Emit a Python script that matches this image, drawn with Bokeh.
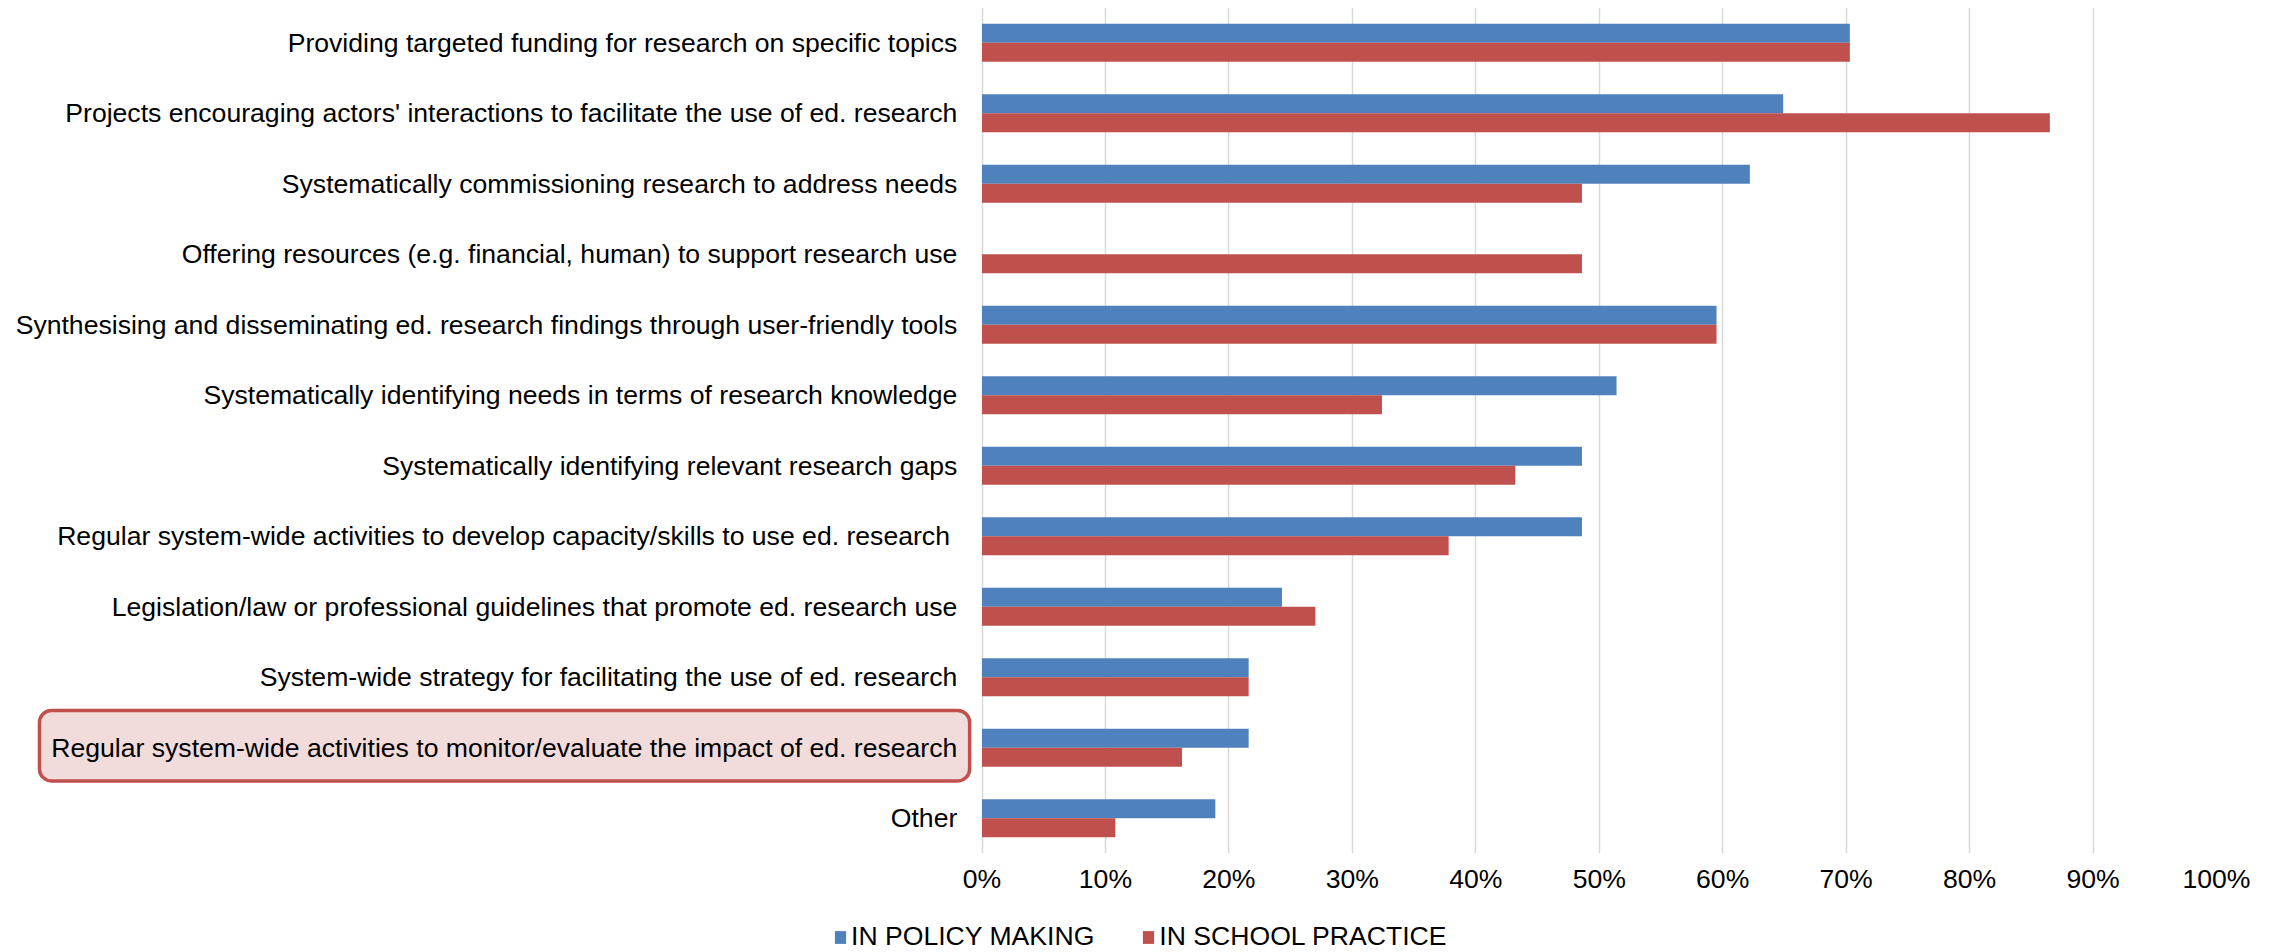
from bokeh.plotting import figure
from bokeh.layouts import column
from bokeh.models import (ColumnDataSource, Range1d, FixedTicker, PrintfTickFormatter,
                          Legend, LegendItem, BoxAnnotation)
from bokeh.embed import file_html
from bokeh.resources import INLINE

categories = [
    "Providing targeted funding for research on specific topics",
    "Projects encouraging actors' interactions to facilitate the use of ed. research",
    "Systematically commissioning research to address needs",
    "Offering resources (e.g. financial, human) to support research use",
    "Synthesising and disseminating ed. research findings through user-friendly tools",
    "Systematically identifying needs in terms of research knowledge",
    "Systematically identifying relevant research gaps",
    "Regular system-wide activities to develop capacity/skills to use ed. research ",
    "Legislation/law or professional guidelines that promote ed. research use",
    "System-wide strategy for facilitating the use of ed. research",
    "Regular system-wide activities to monitor/evaluate the impact of ed. research",
    "Other",
]
policy_making = [70.3, 64.9, 62.2, 0.0, 59.5, 51.4, 48.6, 48.6, 24.3, 21.6, 21.6, 18.9]
school_practice = [70.3, 86.5, 48.6, 48.6, 59.5, 32.4, 43.2, 37.8, 27.0, 21.6, 16.2, 10.8]
x_ticks = [0, 10, 20, 30, 40, 50, 60, 70, 80, 90, 100]
series_names = ["IN POLICY MAKING", "IN SCHOOL PRACTICE"]

BLUE = "#4f81bd"
RED = "#c0504d"
FONT = "Liberation Sans"
FS = "26.6px"

n = len(categories)
ypos = [n - i - 0.5 for i in range(n)]
bar_h = 0.27
src = ColumnDataSource(dict(
    cat=categories,
    y=ypos,
    y_blue=[v + bar_h / 2 for v in ypos],
    y_red=[v - bar_h / 2 for v in ypos],
    policy=policy_making,
    school=school_practice,
))

W = 2280
H_MAIN = 912
H_LEG = 952 - H_MAIN
zero_px = 981.5
right_px = 2216
px_per_pct = (right_px - zero_px) / 100.0
x_min = -zero_px / px_per_pct

p = figure(width=W, height=H_MAIN, output_backend="svg", toolbar_location=None,
           x_range=Range1d(x_min, 100), y_range=Range1d(0, n),
           y_axis_location=None, tools="")
p.min_border_left = 0
p.min_border_right = W - right_px
p.min_border_top = 7
p.min_border_bottom = H_MAIN - 853
p.outline_line_color = None
p.background_fill_color = "white"
p.border_fill_color = "white"

# grid
p.ygrid.visible = False
p.xgrid.ticker = FixedTicker(ticks=x_ticks)
p.xgrid.grid_line_color = "#d9d9d9"
p.xgrid.grid_line_width = 1.5

# x axis
xa = p.xaxis[0]
xa.ticker = FixedTicker(ticks=x_ticks)
xa.formatter = PrintfTickFormatter(format="%d%%")
xa.axis_line_color = None
xa.major_tick_line_color = None
xa.minor_tick_line_color = None
xa.major_tick_out = 0
xa.major_tick_in = 0
xa.major_label_text_font = FONT
xa.major_label_text_font_size = FS
xa.major_label_text_color = "#000000"
xa.major_label_standoff = 10

# highlight box around one category label
hl = BoxAnnotation(left=-76.35, right=-1.0, bottom=1.03, top=2.03,
                   fill_color="#f2dcdb", fill_alpha=1.0,
                   line_color=RED, line_alpha=1.0, line_width=3.5, border_radius=12,
                   level="underlay")
p.add_layout(hl)

p.hbar(y="y_blue", right="policy", left=0, height=bar_h, source=src,
       fill_color=BLUE, line_color=None)
p.hbar(y="y_red", right="school", left=0, height=bar_h, source=src,
       fill_color=RED, line_color=None)

# category labels
p.text(x=-2.0, y="y", text="cat", source=src, text_align="right",
       text_baseline="middle", text_font_size=FS, text_color="#000000",
       text_font={"value": FONT})

# legend strip underneath (swatch renderers sit outside the visible range)
pl = figure(width=W, height=H_LEG, output_backend="svg", toolbar_location=None,
            x_range=Range1d(0, W), y_range=Range1d(0, H_LEG),
            x_axis_location=None, y_axis_location=None, tools="")
pl.min_border = 0
pl.outline_line_color = None
pl.grid.visible = False
pl.background_fill_color = "white"
pl.border_fill_color = "white"
lb = pl.hbar(y=[-100], right=[1], left=0, height=1, fill_color=BLUE, line_color=None)
lr = pl.hbar(y=[-100], right=[1], left=0, height=1, fill_color=RED, line_color=None)
legend = Legend(items=[LegendItem(label=series_names[0], renderers=[lb]),
                       LegendItem(label=series_names[1], renderers=[lr])],
                orientation="horizontal", location=(833, 0),
                padding=0, margin=0, spacing=47,
                glyph_width=14, glyph_height=16, label_standoff=4,
                label_height=26,
                label_text_font=FONT, label_text_font_size=FS,
                label_text_color="#000000",
                border_line_color=None, background_fill_alpha=0)
pl.add_layout(legend)

layout = column(p, pl, spacing=0)
open("out.html", "w").write(file_html(layout, INLINE))
